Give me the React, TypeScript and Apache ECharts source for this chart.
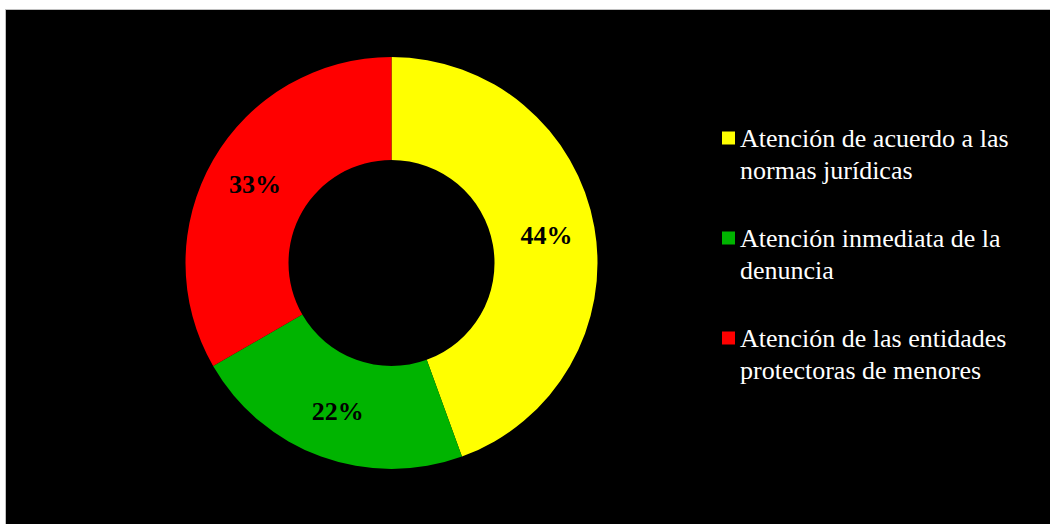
import React, { useEffect, useRef } from "react";
import * as echarts from "echarts";

const categories = [
  "Atención de acuerdo a las\nnormas jurídicas",
  "Atención inmediata de la\ndenuncia",
  "Atención de las entidades\nprotectoras de menores",
];
const values = [44, 22, 33];
const colors = ["#FFFF00", "#00B400", "#FF0000"];

export default function App() {
  const ref = useRef<HTMLDivElement>(null);
  useEffect(() => {
    const chart = echarts.init(ref.current!, null, { renderer: "svg" });
    chart.setOption({
      animation: false,
      backgroundColor: "#ffffff",
      graphic: [
        {
          type: "rect",
          z: -10,
          silent: true,
          shape: { x: 5.5, y: 9.5, width: 1050, height: 520 },
          style: { fill: "#000000", stroke: "#c0c0c0", lineWidth: 1 },
        },
      ],
      legend: {
        orient: "vertical",
        left: 717,
        top: 85,
        itemWidth: 13,
        itemHeight: 13,
        itemGap: 4,
        icon: "rect",
        formatter: (name: string) => " \n" + name,
        textStyle: {
          color: "#ffffff",
          fontFamily: "Liberation Serif",
          fontSize: 26,
          lineHeight: 32,
        },
        data: categories,
      },
      series: [
        {
          type: "pie",
          center: [391.5, 263],
          radius: [103, 206],
          startAngle: 90,
          clockwise: true,
          avoidLabelOverlap: false,
          label: {
            show: true,
            position: "inside",
            formatter: (p: any) => `${p.value}%`,
            color: "#000000",
            fontFamily: "Liberation Serif",
            fontWeight: "bold",
            fontSize: 26,
          },
          labelLine: { show: false },
          itemStyle: { borderWidth: 0 },
          emphasis: { disabled: true },
          data: categories.map((name, i) => ({
            name,
            value: values[i],
            itemStyle: { color: colors[i] },
          })),
        },
      ],
    });
    return () => chart.dispose();
  }, []);
  return (
    <div
      ref={ref}
      style={{ position: "fixed", left: 0, top: 0, width: 1050, height: 524 }}
    />
  );
}
